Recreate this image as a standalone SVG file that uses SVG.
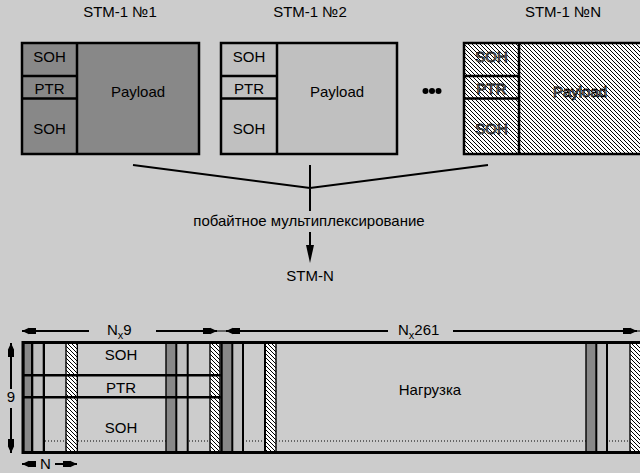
<svg xmlns="http://www.w3.org/2000/svg" width="640" height="473" viewBox="0 0 640 473">
<style>
text{font-family:"Liberation Sans",Arial,sans-serif;font-size:15px;fill:#000}
.c{text-anchor:middle}
.box{stroke:#000;stroke-width:2.5}
.ln{stroke:#000;stroke-width:2.5;fill:none}
.dim{stroke:#000;stroke-width:2;fill:none}
.ht{fill:#cfcfcf;stroke:#000;stroke-width:0.8}
</style>
<defs>
<pattern id="hatch" patternUnits="userSpaceOnUse" width="4" height="4">
<rect width="4" height="4" fill="#fff"/>
<path d="M-1,-1 L5,5 M-1,3 L1,5 M3,-1 L5,1" stroke="#000" stroke-width="1"/>
</pattern>
<marker id="da" markerUnits="userSpaceOnUse" viewBox="0 -4 15 8" markerWidth="15" markerHeight="8" refX="15" refY="0" orient="auto">
<path d="M15,0 L8,-3.2 L8,-3 L1,-3 L1,3 L8,3 L8,3.2 Z" fill="#000"/>
</marker>
</defs>
<rect width="640" height="473" fill="#cccccc"/>

<g id="stm1-1">
<text class="c" x="120" y="17">STM-1 №1</text>
<rect class="box" x="22" y="43" width="177" height="111" fill="#888888"/>
<path class="ln" d="M77,43 V154 M22,76 H77 M22,98.5 H77"/>
<text class="c" x="49.5" y="61.5">SOH</text>
<text class="c" x="49.5" y="94">PTR</text>
<text class="c" x="49.5" y="134">SOH</text>
<text class="c" x="138" y="96.5">Payload</text>
</g>

<g id="stm1-2">
<text class="c" x="310" y="17">STM-1 №2</text>
<rect class="box" x="221" y="43" width="176" height="111" fill="#c0c0c0"/>
<path class="ln" d="M277,43 V154 M221,76 H277 M221,98.5 H277"/>
<text class="c" x="249" y="61.5">SOH</text>
<text class="c" x="249" y="94">PTR</text>
<text class="c" x="249" y="134">SOH</text>
<text class="c" x="337" y="96.5">Payload</text>
</g>

<g id="dots">
<circle cx="425.5" cy="91" r="3" fill="#000"/>
<circle cx="432" cy="91" r="3" fill="#000"/>
<circle cx="438.5" cy="91" r="3" fill="#000"/>
</g>

<g id="stm1-n">
<text class="c" x="563" y="17">STM-1 №N</text>
<rect class="box" x="464" y="43" width="180" height="111" fill="url(#hatch)"/>
<path class="ln" d="M519,43 V154 M464,76 H519 M464,98.5 H519"/>
<text class="c ht" x="491.5" y="61.5">SOH</text>
<text class="c ht" x="491.5" y="94">PTR</text>
<text class="c ht" x="491.5" y="134">SOH</text>
<text class="c ht" x="580" y="96.5">Payload</text>
</g>

<g id="connectors">
<path class="dim" d="M133,165 L310,188 L488,165 M310,165 V211"/>
<path class="dim" d="M310,232 V248"/>
<polygon points="306,245 314,245 310,263" fill="#000"/>
</g>

<g id="mux-label">
<text class="c" x="309" y="226">побайтное мультиплексирование</text>
</g>

<g id="stm-n">
<text class="c" x="310" y="281">STM-N</text>
</g>

<g id="frame">
<line x1="45" y1="441" x2="640" y2="441" stroke="#000" stroke-width="1" stroke-dasharray="1 2"/>
<g>
<rect x="22" y="343" width="23" height="109" fill="#000"/>
<rect x="24.3" y="343" width="6.7" height="109" fill="#888888"/>
<rect x="33.3" y="343" width="9.4" height="109" fill="#c0c0c0"/>
<rect x="165.3" y="343" width="23.4" height="109" fill="#000"/>
<rect x="166.7" y="343" width="8.6" height="109" fill="#888888"/>
<rect x="177.3" y="343" width="9.4" height="109" fill="#c0c0c0"/>
<rect x="220.7" y="343" width="23.3" height="109" fill="#000"/>
<rect x="222.7" y="343" width="8.6" height="109" fill="#888888"/>
<rect x="233.3" y="343" width="8.7" height="109" fill="#c0c0c0"/>
<rect x="585.3" y="343" width="22.7" height="109" fill="#000"/>
<rect x="586.7" y="343" width="8.6" height="109" fill="#888888"/>
<rect x="597.3" y="343" width="8.7" height="109" fill="#c0c0c0"/>
</g>
<g>
<rect x="65.3" y="343" width="12.7" height="109" fill="#000"/>
<rect x="66.7" y="343" width="10" height="109" fill="url(#hatch)"/>
<rect x="209.3" y="343" width="11.4" height="109" fill="#000"/>
<rect x="210.7" y="343" width="8.6" height="109" fill="url(#hatch)"/>
<rect x="264" y="343" width="12.7" height="109" fill="#000"/>
<rect x="266" y="343" width="9.3" height="109" fill="url(#hatch)"/>
<rect x="629.3" y="343" width="11" height="109" fill="#000"/>
<rect x="630.7" y="343" width="10" height="109" fill="url(#hatch)"/>
</g>
<path d="M22,375.2 H220.7 M22,397.3 H220.7" stroke="#000" stroke-width="2.4" fill="none"/>
<path d="M22,342.5 H640 M22,452.5 H640 M23,341 V454" stroke="#000" stroke-width="3" fill="none"/>
<text class="c" x="121" y="360">SOH</text>
<text class="c" x="121" y="393">PTR</text>
<text class="c" x="121" y="432.5">SOH</text>
<text class="c" x="430" y="395">Нагрузка</text>
</g>

<g id="dimensions">
<path class="dim" d="M89,331 H22" marker-end="url(#da)"/>
<path class="dim" d="M156,331 H217" marker-end="url(#da)"/>
<path d="M217,331 H226" stroke="#000" stroke-width="1"/>
<path class="dim" d="M388,331 H226" marker-end="url(#da)"/>
<path class="dim" d="M453,331 H637" marker-end="url(#da)"/>
<path d="M637,331 H640" stroke="#000" stroke-width="1"/>
<text x="107" y="335">N<tspan dy="3.5" font-size="11">x</tspan><tspan dy="-3.5">9</tspan></text>
<text x="398" y="335">N<tspan dy="3.5" font-size="11">x</tspan><tspan dy="-3.5">261</tspan></text>
<path class="dim" d="M11,389 V343" marker-end="url(#da)"/>
<path class="dim" d="M11,408 V453" marker-end="url(#da)"/>
<text class="c" x="11" y="402">9</text>
<path class="dim" d="M35,464 H22" marker-end="url(#da)"/>
<path class="dim" d="M55,464 H77" marker-end="url(#da)"/>
<text x="40" y="469">N</text>
</g>
</svg>
